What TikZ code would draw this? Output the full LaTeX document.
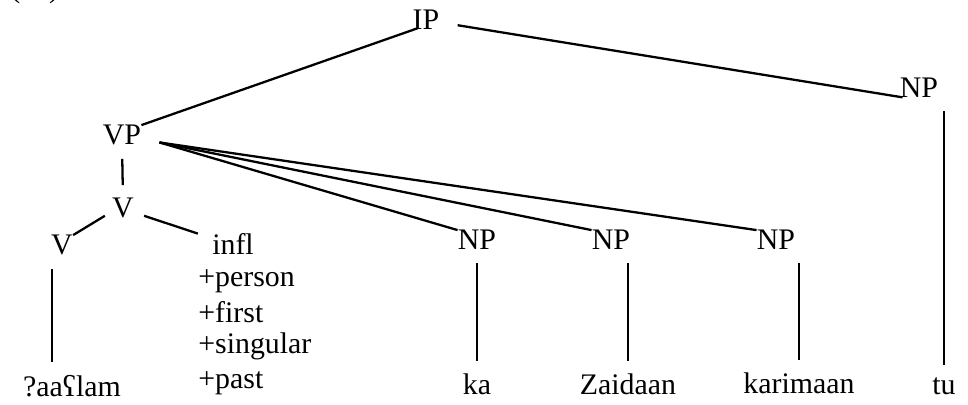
\documentclass[tikz,border=0pt]{standalone}
\usepackage{fontspec}
\setmainfont{Liberation Serif}
\usetikzlibrary{positioning,calc}

\tikzset{
  cat/.style={inner sep=0pt, anchor=base},
  branch/.style={line width=1.3pt},
  stem/.style={branch, shorten <=0.26cm, shorten >=0.26cm}
}

\begin{document}
\begin{tikzpicture}[x=0.02cm,y=-0.02cm,font=\fontsize{17}{20}\selectfont]
  \useasboundingbox (0,0) rectangle (968,405);

  %% example number (cut at the top)
  \node[cat, anchor=base west] (exno) at (10,-2) {(11)};

  %% categories
  \node[cat] (ip) at (426,30) {IP};
  \node[cat] (vp) at (122,145) {VP};
  \node[cat] (v) at (123,218) {V};
  \node[cat] (vlow) at (62,255) {V};
  \node[cat] (infl) at (233,255) {infl};
  \node[cat] (np1) at (477,250) {NP};
  \node[cat] (np2) at (611,250) {NP};
  \node[cat] (np3) at (776,250) {NP};
  \node[cat] (np4) at (919,98) {NP};

  %% features under infl
  \foreach \f/\y in {person/287,first/323,singular/354,past/389}
    \node[cat, anchor=base west] (f-\f) at (198,\y) {+\f};

  %% words
  \node[cat] (aaslam) at (72,397) {?aaʕlam};
  \node[cat] (ka) at (477,395) {ka};
  \node[cat] (zaidaan) at (628,395) {Zaidaan};
  \node[cat] (karimaan) at (799,394) {karimaan};
  \node[cat] (tu) at (944,395) {tu};

  %% IP branches
  \draw[branch] ($(vp.north east)+(0,0)$) -- ($(ip.south west)+(5,-2)$);
  \draw[branch] ($(ip.east)+(18,5)$) -- ($(np4.south west)+(3,-1)$);

  %% VP fan
  \coordinate (fan) at ($(vp.east)+(18,7)$);
  \foreach \n in {np1,np2,np3} \draw[branch] (fan) -- (\n.north west);

  %% V
  \draw[stem] (vp.south) -- (v.north);
  \draw[branch] ($(v.south west)+(-7,-3)$) -- (vlow.north east);
  \draw[branch] ($(v.south east)+(10,-3)$) -- ($(infl.north west)+(-14,0)$);

  %% stems down to the words
  \draw[stem] ([xshift=-0.2cm]vlow.south) -- ([xshift=-0.2cm]vlow.south |- aaslam.north);
  \foreach \w/\n in {ka/np1,zaidaan/np2,karimaan/np3,tu/np4}
    \draw[stem] (\w.north) -- (\w.north |- \n.south);
\end{tikzpicture}
\end{document}
